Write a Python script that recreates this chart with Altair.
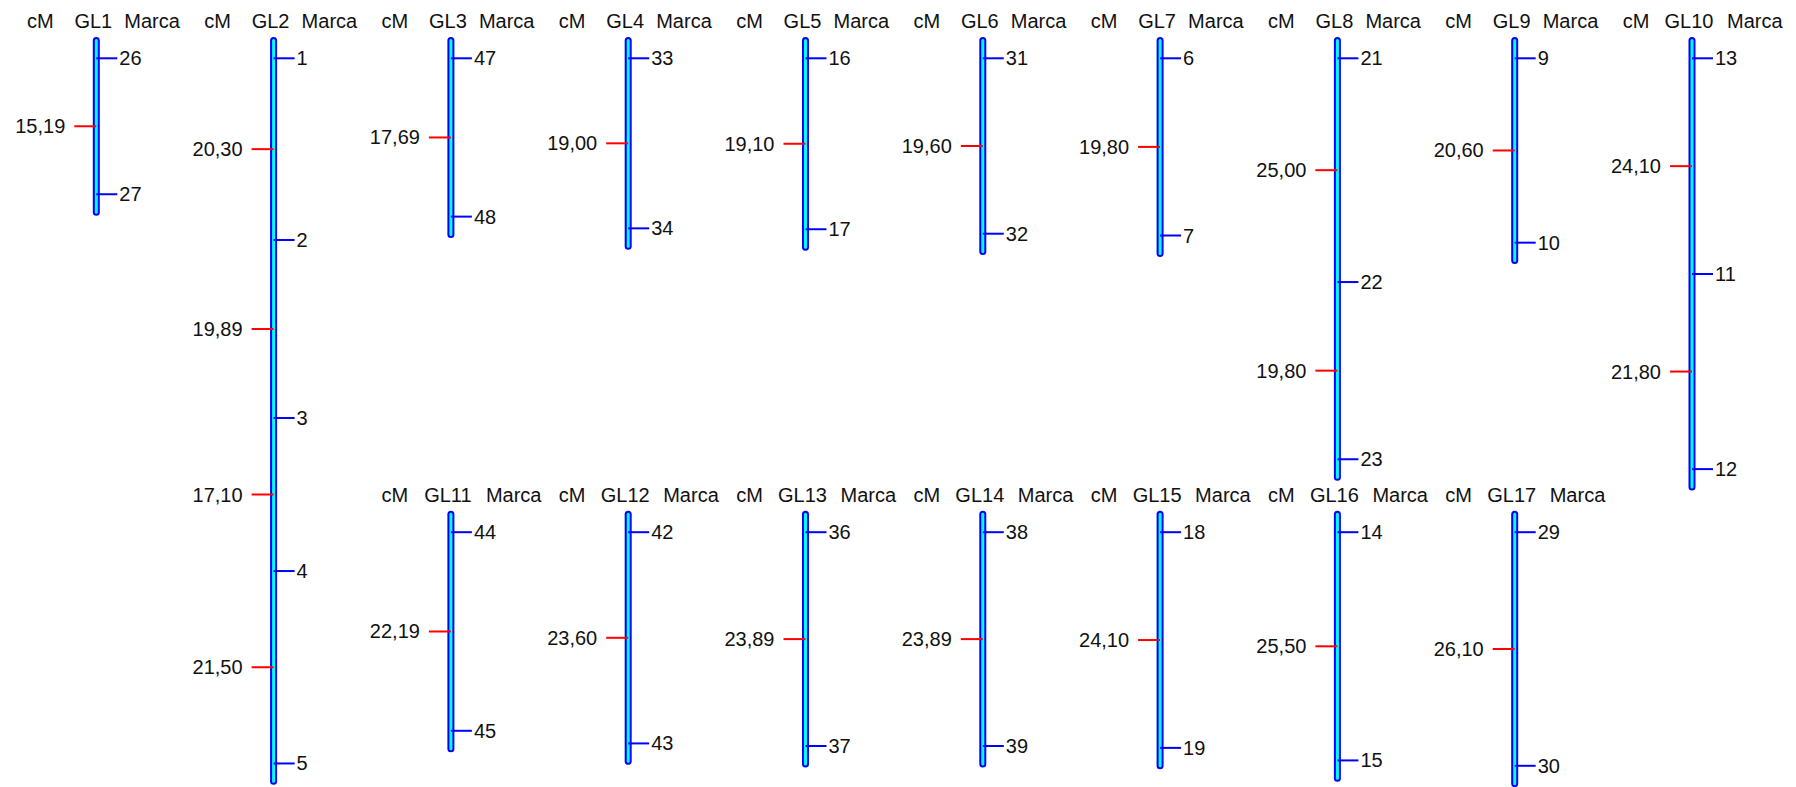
import altair as alt
import pandas as pd

# Linkage groups, their marker order and the map distance (cM) between neighbouring markers
groups = ["GL1", "GL2", "GL3", "GL4", "GL5", "GL6", "GL7", "GL8", "GL9", "GL10",
          "GL11", "GL12", "GL13", "GL14", "GL15", "GL16", "GL17"]
markers = [
    [26, 27], [1, 2, 3, 4, 5], [47, 48], [33, 34], [16, 17], [31, 32], [6, 7],
    [21, 22, 23], [9, 10], [13, 11, 12],
    [44, 45], [42, 43], [36, 37], [38, 39], [18, 19], [14, 15], [29, 30],
]
intervals = [
    [15.19], [20.30, 19.89, 17.10, 21.50], [17.69], [19.00], [19.10], [19.60], [19.80],
    [25.00, 19.80], [20.60], [24.10, 21.80],
    [22.19], [23.60], [23.89], [23.89], [24.10], [25.50], [26.10],
]

ROW_SHIFT = 52.95   # cM offset of the second row of groups
END_PAD = 2.0       # cM of chromosome drawn beyond the outer markers
PER_ROW = 10
SECOND_ROW_START = 2

bars, marks, gaps, heads = [], [], [], []
for i, (g, mk, iv) in enumerate(zip(groups, markers, intervals)):
    if i < PER_ROW:
        col, off = i, 0.0
    else:
        col, off = i - PER_ROW + SECOND_ROW_START, ROW_SHIFT
    pos = [0.0]
    for d in iv:
        pos.append(pos[-1] + d)
    bars.append({"grp": g, "col": col, "top": off - END_PAD, "bot": off + pos[-1] + END_PAD})
    heads.append({"grp": g, "col": col, "y": off, "wide": len(g) > 3})
    for m, p in zip(mk, pos):
        marks.append({"grp": g, "col": col, "y": off + p, "label": str(m)})
    for a, b, d in zip(pos[:-1], pos[1:], iv):
        gaps.append({"grp": g, "col": col, "y": off + (a + b) / 2,
                     "label": f"{d:.2f}".replace(".", ",")})

bars_df = pd.DataFrame(bars)
marks_df = pd.DataFrame(marks)
gaps_df = pd.DataFrame(gaps)
heads_df = pd.DataFrame(heads)

W, H = 1796, 787
x_scale = alt.Scale(domain=[-0.5431, 9.5866], nice=False, zero=False)
y_scale = alt.Scale(domain=[-6.514, 81.42], nice=False, zero=False, reverse=True)
X = alt.X("col:Q", scale=x_scale, axis=None)

FONT = "Liberation Sans"
FS = 20
BLUE = "#0000FF"
CYAN = "#00FFFF"
RED = "#FF0000"
INK = "#111111"

bar_outer = alt.Chart(bars_df).mark_rule(color=BLUE, strokeWidth=7, strokeCap="round").encode(
    x=X, y=alt.Y("top:Q", scale=y_scale, axis=None), y2="bot:Q")
bar_inner = alt.Chart(bars_df).mark_rule(color=CYAN, strokeWidth=3, strokeCap="round").encode(
    x=X, y=alt.Y("top:Q", scale=y_scale, axis=None), y2="bot:Q")

mark_ticks = alt.Chart(marks_df).mark_rule(color=BLUE, strokeWidth=2, x2Offset=21).encode(
    x=X, x2="col:Q", y=alt.Y("y:Q", scale=y_scale, axis=None))
mark_text = alt.Chart(marks_df).mark_text(
    align="left", baseline="middle", dx=23, dy=1, font=FONT, fontSize=FS, color=INK
).encode(x=X, y=alt.Y("y:Q", scale=y_scale, axis=None), text="label:N")

gap_ticks = alt.Chart(gaps_df).mark_rule(color=RED, strokeWidth=2, xOffset=-22).encode(
    x=X, x2="col:Q", y=alt.Y("y:Q", scale=y_scale, axis=None))
gap_text = alt.Chart(gaps_df).mark_text(
    align="right", baseline="middle", dx=-31, dy=1, font=FONT, fontSize=FS, color=INK
).encode(x=X, y=alt.Y("y:Q", scale=y_scale, axis=None), text="label:N")

head_base = alt.Chart(heads_df)
Yh = alt.Y("y:Q", scale=y_scale, axis=None)
head_cm = head_base.mark_text(
    align="center", baseline="alphabetic", dx=-56, dy=-30, font=FONT, fontSize=FS, color=INK
).encode(x=X, y=Yh, text=alt.value("cM"))
head_grp = head_base.mark_text(
    align="center", baseline="alphabetic", dx=-3, dy=-30, font=FONT, fontSize=FS, color=INK
).encode(x=X, y=Yh, text="grp:N")
head_marca_a = head_base.transform_filter("!datum.wide").mark_text(
    align="left", baseline="alphabetic", dx=28, dy=-30, font=FONT, fontSize=FS, color=INK
).encode(x=X, y=Yh, text=alt.value("Marca"))
head_marca_b = head_base.transform_filter("datum.wide").mark_text(
    align="left", baseline="alphabetic", dx=35, dy=-30, font=FONT, fontSize=FS, color=INK
).encode(x=X, y=Yh, text=alt.value("Marca"))

chart = alt.layer(
    bar_outer, bar_inner, mark_ticks, gap_ticks,
    mark_text, gap_text, head_cm, head_grp, head_marca_a, head_marca_b,
).properties(
    width=W, height=H, autosize=alt.AutoSizeParams(type="none"), padding=0,
    background="#FFFFFF",
).configure_view(stroke=None)

chart.save("out.html", embed_options={"renderer": "svg", "actions": False})
